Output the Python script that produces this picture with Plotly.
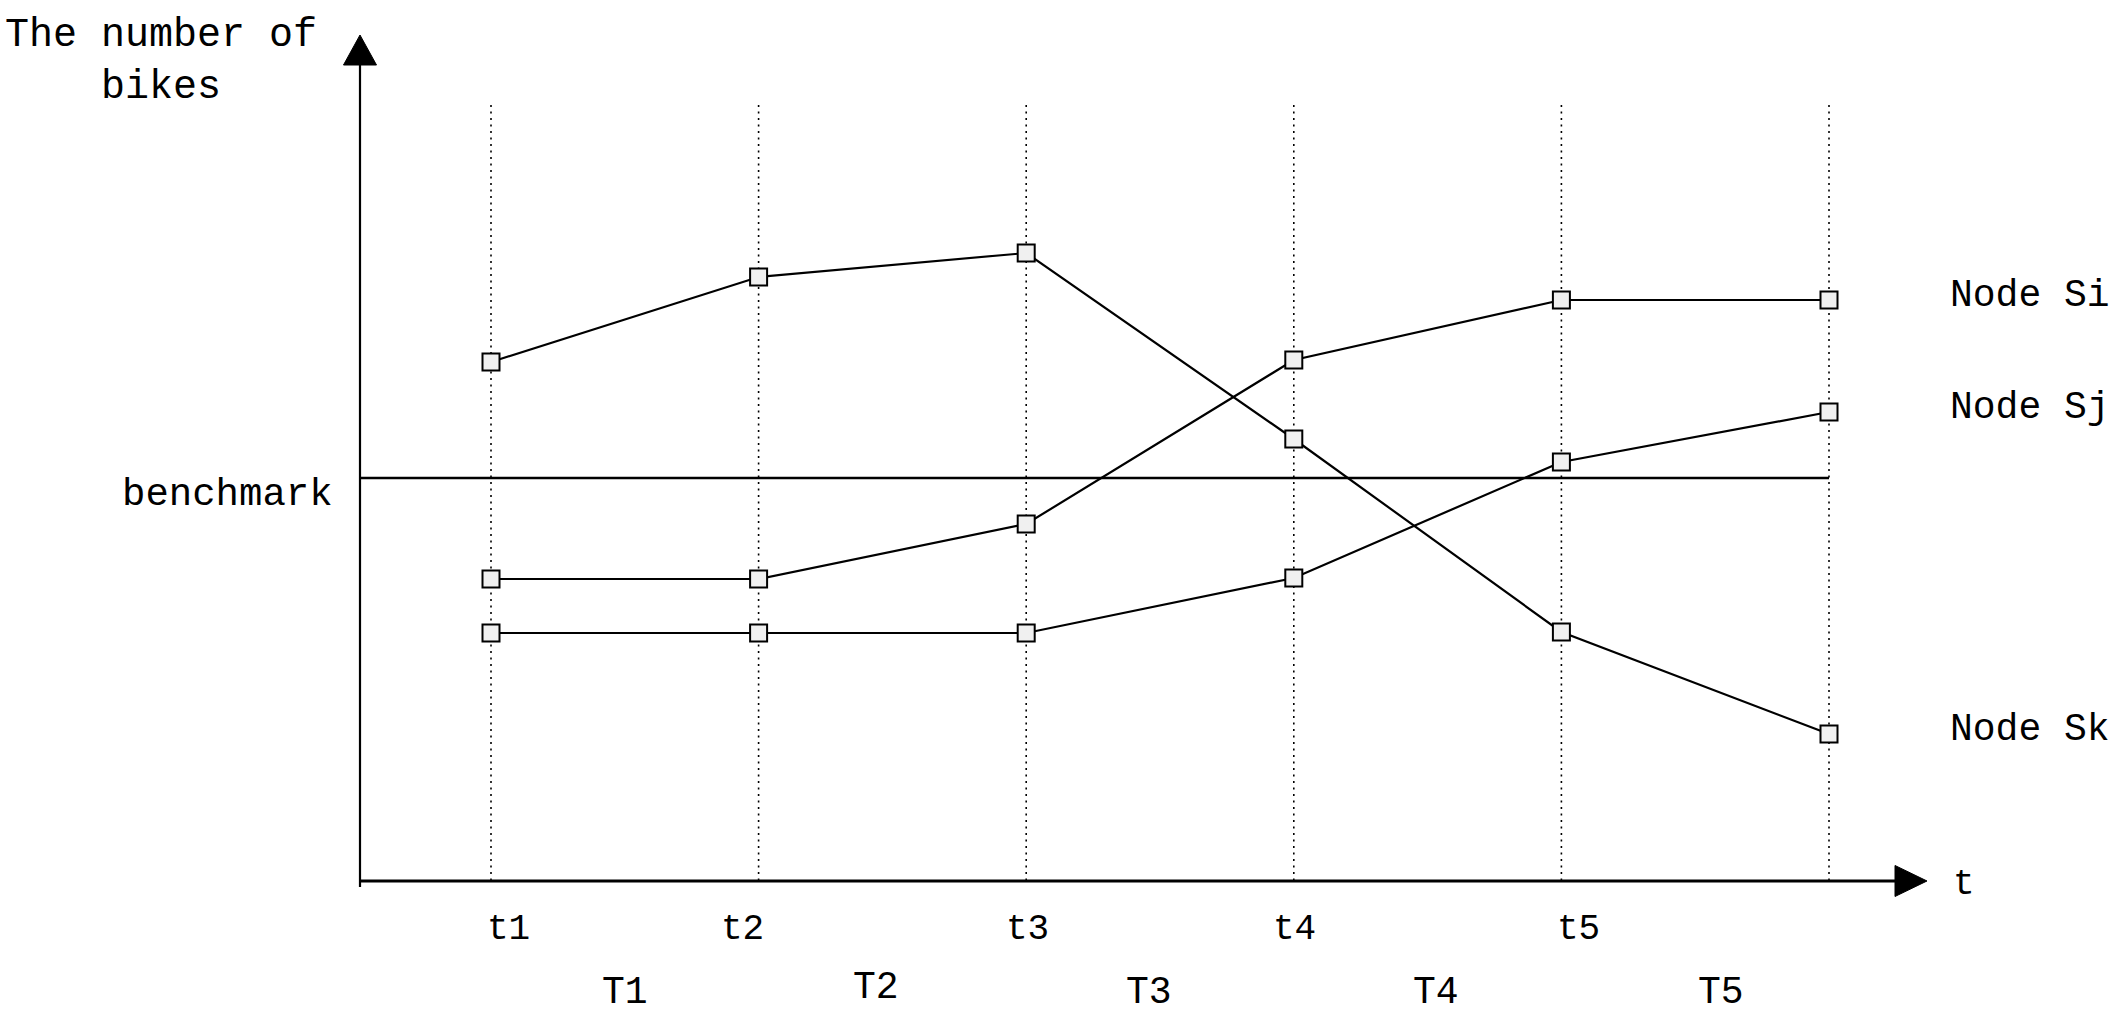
import plotly.graph_objects as go

# ---------------- data ----------------
time_points = ["t1", "t2", "t3", "t4", "t5", ""]
periods = ["T1", "T2", "T3", "T4", "T5"]
series_names = ["Node Si", "Node Sj", "Node Sk"]
node_si = [30.2, 30.2, 35.7, 52.1, 58.1, 58.1]
node_sj = [24.8, 24.8, 24.8, 30.3, 41.9, 46.9]
node_sk = [51.9, 60.4, 62.8, 44.2, 24.9, 14.7]
benchmark = 40.3
y_title = "The number of<br>bikes"
x_title = "t"
benchmark_label = "benchmark"

# ---------------- layout / styling ----------------
W, H = 2119, 1019
X0_PX, STEP_PX = 491, 267.6      # pixel of first time point, spacing
Y0_PX, UNIT_PX = 881, 10         # pixel of value 0, pixels per unit
AXIS_X_PX = 360                  # y-axis pixel column
FONT = "Liberation Mono"

x_vals = list(range(len(time_points)))
x_range = [-X0_PX / STEP_PX, (W - X0_PX) / STEP_PX]
y_range = [-(H - Y0_PX) / UNIT_PX, Y0_PX / UNIT_PX]


def px(x):
    return x / W


def py(y):
    return 1 - y / H


fig = go.Figure()

for name, vals in zip(series_names, [node_si, node_sj, node_sk]):
    fig.add_trace(go.Scatter(
        x=x_vals, y=vals, name=name, mode="lines+markers",
        line=dict(color="black", width=2.2),
        marker=dict(symbol="square", size=17, color="#f0f0f0",
                    line=dict(color="black", width=2)),
        showlegend=False, hoverinfo="skip",
    ))

shapes = []
# dotted verticals at each time point
for xv in x_vals:
    shapes.append(dict(type="line", xref="x", yref="paper", x0=xv, x1=xv,
                       y0=py(105), y1=py(Y0_PX), layer="below",
                       line=dict(color="black", width=1.6, dash="2px,4.5px")))
# benchmark line
axis_x_data = (AXIS_X_PX - X0_PX) / STEP_PX
shapes.append(dict(type="line", xref="x", yref="y", x0=axis_x_data, x1=x_vals[-1],
                   y0=benchmark, y1=benchmark, layer="below",
                   line=dict(color="black", width=2.4)))
# axes
shapes.append(dict(type="line", xref="paper", yref="paper",
                   x0=px(AXIS_X_PX), x1=px(1896), y0=py(Y0_PX), y1=py(Y0_PX),
                   line=dict(color="black", width=3)))
shapes.append(dict(type="line", xref="paper", yref="paper",
                   x0=px(AXIS_X_PX), x1=px(AXIS_X_PX), y0=py(887), y1=py(64),
                   line=dict(color="black", width=2.2)))
# arrowheads
up = "M {:.5f},{:.5f} L {:.5f},{:.5f} L {:.5f},{:.5f} Z".format(
    px(AXIS_X_PX - 16.5), py(65), px(AXIS_X_PX + 16.5), py(65), px(AXIS_X_PX), py(35))
right = "M {:.5f},{:.5f} L {:.5f},{:.5f} L {:.5f},{:.5f} Z".format(
    px(1895), py(Y0_PX - 15.5), px(1895), py(Y0_PX + 15.5), px(1927), py(Y0_PX))
for p in (up, right):
    shapes.append(dict(type="path", xref="paper", yref="paper", path=p,
                       fillcolor="black", line=dict(color="black", width=1)))

annotations = []
# time point labels
t_shift = [17, -16, 1, 1, 17]
for xv, lab, s in zip(x_vals, time_points, t_shift):
    if lab:
        annotations.append(dict(x=xv, y=py(929), xref="x", yref="paper", text=lab,
                                showarrow=False, xshift=s, xanchor="center", yanchor="middle",
                                font=dict(family=FONT, size=36, color="black")))
# period labels
T_shift = [0, -16, -11, 8, 26]
T_y = [992, 987, 992, 992, 992]
for i, (lab, s, yy) in enumerate(zip(periods, T_shift, T_y)):
    annotations.append(dict(x=x_vals[i] + 0.5, y=py(yy), xref="x", yref="paper", text=lab,
                            showarrow=False, xshift=s, xanchor="center", yanchor="middle",
                            font=dict(family=FONT, size=38, color="black")))
# node labels
for name, vals in zip(series_names, [node_si, node_sj, node_sk]):
    annotations.append(dict(x=x_vals[-1], y=vals[-1], xref="x", yref="y", text=name,
                            showarrow=False, xshift=119, yshift=5,
                            xanchor="left", yanchor="middle",
                            font=dict(family=FONT, size=38, color="black")))
# benchmark label
annotations.append(dict(x=px(335), y=benchmark, xref="paper", yref="y", text=benchmark_label,
                        showarrow=False, yshift=-17, xanchor="right", yanchor="middle",
                        font=dict(family=FONT, size=39, color="black")))
# axis titles
annotations.append(dict(x=px(161), y=py(61), xref="paper", yref="paper", text=y_title,
                        showarrow=False, xanchor="center", yanchor="middle", align="center",
                        font=dict(family=FONT, size=40, color="black")))
annotations.append(dict(x=px(1951), y=py(884), xref="paper", yref="paper", text=x_title,
                        showarrow=False, xanchor="left", yanchor="middle",
                        font=dict(family=FONT, size=36, color="black")))

fig.update_layout(
    width=W, height=H, autosize=False,
    margin=dict(l=0, r=0, t=0, b=0, pad=0),
    paper_bgcolor="white", plot_bgcolor="white",
    xaxis=dict(range=x_range, visible=False, fixedrange=True),
    yaxis=dict(range=y_range, visible=False, fixedrange=True),
    shapes=shapes, annotations=annotations, showlegend=False,
)

fig.write_html("out.html", config={"displayModeBar": False},
               post_script="document.body.style.margin='0';document.body.style.overflow='hidden';")
